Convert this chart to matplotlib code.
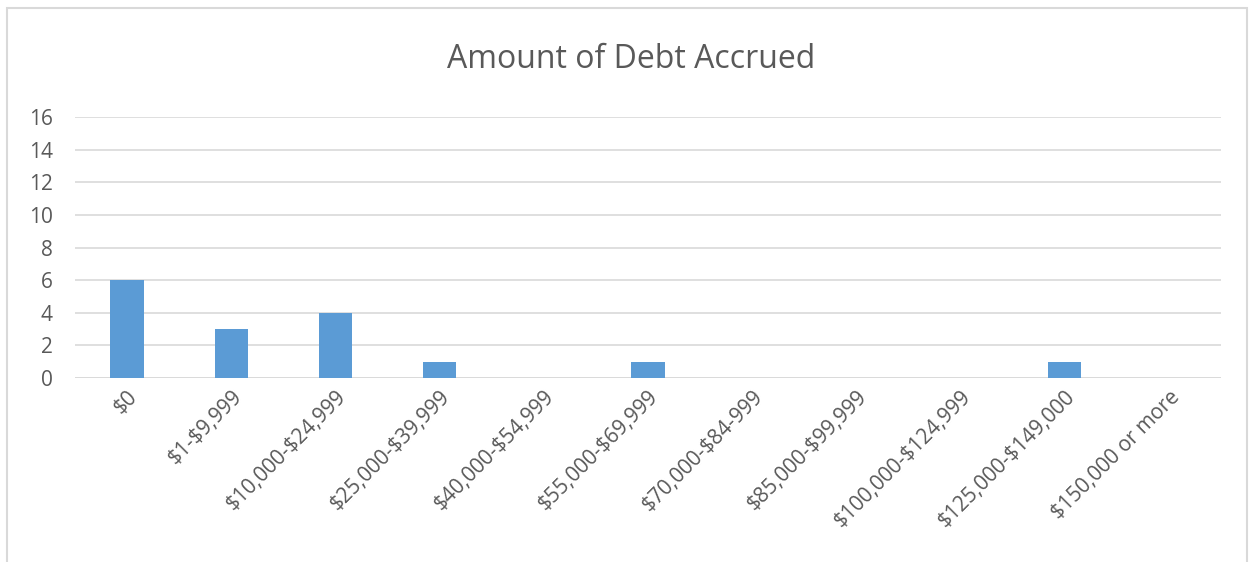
import matplotlib
matplotlib.use("Agg")
import matplotlib.pyplot as plt
from matplotlib.patches import Rectangle

categories = ["$0", "$1-$9,999", "$10,000-$24,999", "$25,000-$39,999", "$40,000-$54,999",
              "$55,000-$69,999", "$70,000-$84-999", "$85,000-$99,999", "$100,000-$124,999",
              "$125,000-$149,000", "$150,000 or more"]
values = [6, 3, 4, 1, 0, 1, 0, 0, 0, 1, 0]
yticks = [0, 2, 4, 6, 8, 10, 12, 14, 16]

plt.rcParams['font.family'] = ['Open Sans', 'DejaVu Sans']
plt.rcParams['text.parse_math'] = False
W, H = 1250, 562
fig = plt.figure(figsize=(W/100, H/100), dpi=100)
ax = fig.add_axes([75/W, 1-378/H, (1221-75)/W, (378-117)/H])

x = list(range(len(categories)))
ax.bar(x, values, width=0.32, color="#5B9BD5", zorder=3)
ax.set_xlim(-0.5, len(categories)-0.5)
ax.set_ylim(0, 16)
ax.set_yticks(yticks)
ax.set_yticklabels([str(v) for v in yticks], fontsize=15, color="#595959")
ax.set_xticks(x)
ax.set_xticklabels(categories, rotation=45, ha="right", rotation_mode="anchor",
                   fontsize=15, color="#595959")
ax.tick_params(axis="both", length=0)
ax.tick_params(axis="x", pad=6)
ax.tick_params(axis="y", pad=16)
ax.grid(axis="y", color="#D9D9D9", linewidth=1.2, zorder=0)
for s in ax.spines.values():
    s.set_visible(False)
ax.axhline(0, color="#D9D9D9", linewidth=1.2, zorder=1)

fig.text(631/W, 1-60/H, "Amount of Debt Accrued", ha="center", va="center",
         fontsize=23, color="#595959")
fig.patches.append(Rectangle((7/W, -0.01), (1247-7)/W, 1.01-8/H, transform=fig.transFigure,
                             fill=False, edgecolor="#D9D9D9", linewidth=1.5))
fig.savefig("out.png", dpi=100)
